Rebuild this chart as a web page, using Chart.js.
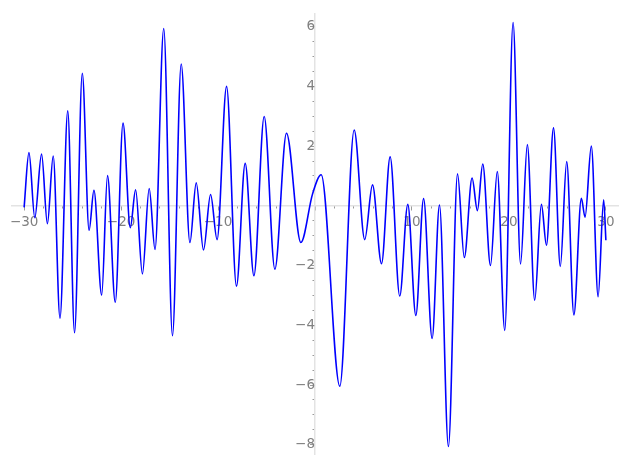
<!DOCTYPE html>
<html>
<head>
<meta charset="utf-8">
<script src="https://cdn.jsdelivr.net/npm/chart.js@4"></script>
<style>
  html, body { margin: 0; padding: 0; background: #ffffff; }
  #plot { display: block; }
</style>
</head>
<body>
<canvas id="plot" width="627" height="469"></canvas>
<script>
// peaks, troughs and a few in-between points
var xValues = [-30, -29.5, -28.9, -28.2, -27.6, -27.0, -26.3, -25.5, -24.8, -24.0,
  -23.3, -22.8, -22.0, -21.4, -20.6, -19.8, -19.05, -18.5, -17.8, -17.1,
  -16.5, -15.6, -14.7, -13.8, -12.9, -12.25, -11.5, -10.77, -10.1, -9.12,
  -8.1, -7.2, -6.3, -5.24, -4.14, -2.94, -1.46, -0.25, 0.64, 2.56,
  4.04, 5.13, 5.93, 6.86, 7.75, 8.74, 9.57, 10.4, 11.2, 12.08,
  12.84, 13.76, 14.7, 15.4, 16.2, 16.75, 17.3, 18.1, 18.8, 19.57,
  20.43, 21.2, 21.9, 22.66, 23.35, 23.87, 24.6, 25.3, 25.96, 26.7,
  27.47, 27.85, 28.5, 29.2, 29.77, 30];
var yValues = [-0.05, 1.78, -0.4, 1.73, -0.6, 1.67, -3.76, 3.18, -4.25, 4.44,
  -0.82, 0.52, -2.99, 1.01, -3.23, 2.77, -0.73, 0.54, -2.28, 0.58,
  -1.46, 5.94, -4.35, 4.75, -1.23, 0.77, -1.48, 0.38, -1.13, 4.0,
  -2.69, 1.42, -2.34, 2.99, -2.12, 2.43, -1.23, 0.4, 1.04, -6.04,
  2.54, -1.13, 0.70, -1.94, 1.64, -3.02, 0.05, -3.67, 0.24, -4.44,
  0.03, -8.06, 1.07, -1.73, 0.93, -0.16, 1.4, -2.0, 1.15, -4.17,
  6.14, -1.95, 2.05, -3.16, 0.05, -1.32, 2.61, -2.03, 1.48, -3.65,
  0.25, -0.38, 2.0, -3.04, 0.2, -1.15];
var xMajorStep = 10, xMinorStep = 2;
var yMajorStep = 2, yMinorStep = 0.5;

var points = xValues.map(function (x, i) { return { x: x, y: yValues[i] }; });

var labelFont = { family: 'DejaVu Sans', size: 13.5 };
var axisGray = '#e3e3e3';
var tickGray = '#9a9a9a';

function fmt(v) {
  if (v === 0) return '';
  return v < 0 ? '\u2212' + Math.abs(v) : String(v);
}
function noSize(scale) {
  if (scale.isHorizontal()) scale.height = 0; else scale.width = 0;
}

var ctx = document.getElementById('plot');
var chart = new Chart(ctx, {
  type: 'scatter',
  data: {
    datasets: [{
      data: points,
      showLine: true,
      borderColor: '#0000ff',
      borderWidth: 1.6,
      pointRadius: 0,
      cubicInterpolationMode: 'monotone',
      fill: false
    }]
  },
  options: {
    responsive: false,
    animation: false,
    layout: { padding: { left: 12, right: 9, top: 9, bottom: 11 } },
    plugins: { legend: { display: false }, tooltip: { enabled: false } },
    scales: {
      x: {
        type: 'linear', min: -31.25, max: 31.25, position: { y: 0 },
        border: { color: axisGray, width: 1.5 },
        grid: { drawOnChartArea: false, tickLength: 4, tickColor: tickGray },
        ticks: { stepSize: xMajorStep, includeBounds: false, autoSkip: false, maxRotation: 0,
                 color: '#808080', font: labelFont, padding: 5, callback: fmt },
        afterFit: noSize
      },
      xMinor: {
        type: 'linear', axis: 'x', min: -31.25, max: 31.25, position: { y: 0 },
        border: { display: false },
        grid: { drawOnChartArea: false, tickLength: 2.5, tickColor: tickGray },
        ticks: { stepSize: xMinorStep, includeBounds: false, autoSkip: false, display: false },
        afterFit: noSize
      },
      y: {
        type: 'linear', min: -8.34, max: 6.42, position: { x: 0 },
        border: { color: axisGray, width: 1.5 },
        grid: { drawOnChartArea: false, tickLength: 4, tickColor: tickGray },
        ticks: { stepSize: yMajorStep, includeBounds: false, autoSkip: false,
                 color: '#808080', font: labelFont, padding: 6, callback: fmt },
        afterFit: noSize
      },
      yMinor: {
        type: 'linear', axis: 'y', min: -8.34, max: 6.42, position: { x: 0 },
        border: { display: false },
        grid: { drawOnChartArea: false, tickLength: 2.5, tickColor: tickGray },
        ticks: { stepSize: yMinorStep, includeBounds: false, autoSkip: false, display: false },
        afterFit: noSize
      }
    }
  }
});
</script>
</body>
</html>
